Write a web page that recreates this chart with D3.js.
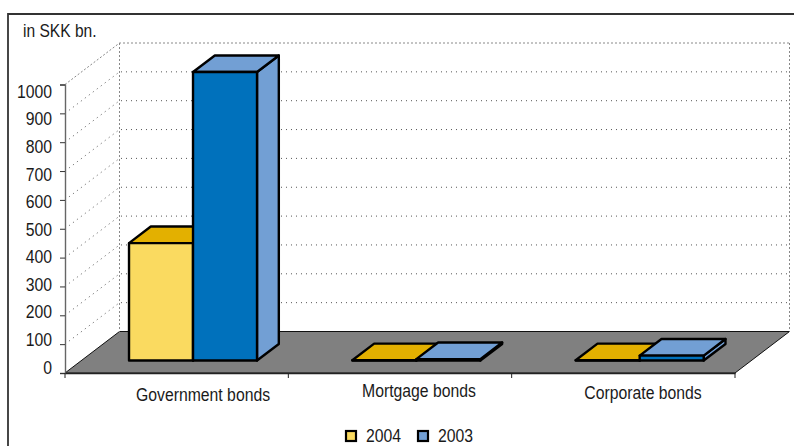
<!DOCTYPE html>
<html>
<head>
<meta charset="utf-8">
<script src="https://cdn.jsdelivr.net/npm/d3@7/dist/d3.min.js"></script>
<style>
  html, body { margin: 0; padding: 0; background: #fff; }
  svg { display: block; }
  text { font-family: "Liberation Sans", Arial, sans-serif; fill: #1a1a1a; }
</style>
</head>
<body>
<svg id="chart" width="794" height="446"></svg>
<script>
const categories = ["Government bonds", "Mortgage bonds", "Corporate bonds"];
const seriesNames = ["2004", "2003"];
const values2004 = [407, 1, 1];
const values2003 = [1000, 5, 17];
const yTicks = [0, 100, 200, 300, 400, 500, 600, 700, 800, 900, 1000];

const svg = d3.select("#chart");

// Plot box of the 3D chart: front plane plus the shift towards the back wall
const plot = { left: 65, right: 735, bottom: 373, top: 84.5, depthX: 54.5, depthY: -41.5 };

const y = d3.scaleLinear().domain([0, 1000]).range([plot.bottom, plot.top]);
// Value labels sit on a slightly tighter ladder than the tick marks
const yLabel = d3.scaleLinear().domain([0, 1000]).range([366.7, 91]);
const xCat = d3.scaleBand().domain(categories).range([plot.left, plot.right]);
const barWidth = 64;
const x = d3.scaleBand().domain(seriesNames).range([0, barWidth * 2]);

// Project (x, y, z) where z runs 0..1 from the front plane to the back wall
const px = (xv, z) => xv + plot.depthX * z;
const py = (yv, z) => yv + plot.depthY * z;
const poly = pts => pts.map(p => p.join(",")).join(" ");
const point = (xv, yv, z) => [px(xv, z), py(yv, z)];

// Condensed lettering: squeeze a text element horizontally to a share of its natural width
function narrow(sel, ratio) {
  sel.each(function () {
    d3.select(this).attr("lengthAdjust", "spacingAndGlyphs")
      .attr("textLength", this.getComputedTextLength() * ratio);
  });
  return sel;
}

// Frame around the chart area (open at the bottom and right)
svg.append("path")
  .attr("d", "M8,446V14H794")
  .attr("fill", "none").attr("stroke", "#333").attr("stroke-width", 1.8);

// Floor
svg.append("polygon")
  .attr("points", poly([point(plot.left, plot.bottom, 0), point(plot.right, plot.bottom, 0),
                        point(plot.right, plot.bottom, 1), point(plot.left, plot.bottom, 1)]))
  .attr("fill", "#808080").attr("stroke", "#111").attr("stroke-width", 1);

// Gridlines on the side wall and back wall
const grid = svg.append("g").attr("fill", "none").attr("stroke", "#555").attr("stroke-width", 1).attr("stroke-dasharray", "1 4");
yTicks.filter(t => t > 0).forEach(t => {
  const a = point(plot.left, y(t), 0), b = point(plot.left, y(t), 1), c = point(plot.right, y(t), 1);
  grid.append("polyline").attr("points", poly([a, b, c]))
    .attr("stroke-dasharray", t === 1000 ? "2 2" : "1 4")
    .attr("stroke", t === 1000 ? "#888" : "#555");
});
[plot.left, plot.right].forEach(edge => {
  grid.append("line").attr("x1", px(edge, 1)).attr("x2", px(edge, 1))
    .attr("y1", py(y(1000), 1)).attr("y2", py(y(0), 1))
    .attr("stroke", "#888").attr("stroke-dasharray", "2 2");
});

// Value axis: tick marks from the axis generator, labels on their own scale
const yAxis = svg.append("g").attr("transform", `translate(${plot.left},0)`)
  .call(d3.axisLeft(y).tickValues(yTicks).tickSize(5).tickFormat(""));
yAxis.selectAll("line").attr("stroke", "#333");
yAxis.select("path").attr("stroke", "#666").attr("stroke-width", 1.4);
svg.append("g").selectAll("text").data(yTicks).join("text")
  .attr("x", 52).attr("y", d => yLabel(d)).attr("dy", "0.36em")
  .attr("text-anchor", "end").attr("font-size", 19)
  .text(d3.format("d"))
  .call(narrow, 0.83);

// Category axis
const xAxis = svg.append("g").attr("transform", `translate(0,${plot.bottom})`)
  .call(d3.axisBottom(xCat).tickSize(0).tickFormat(""));
xAxis.select("path").attr("stroke", "#222").attr("stroke-width", 1.4);
categories.concat([null]).forEach((c, i) => {
  const xv = plot.left + i * xCat.bandwidth();
  xAxis.append("line").attr("x1", xv).attr("x2", xv).attr("y1", 0).attr("y2", 5).attr("stroke", "#222");
});
// Labels are nudged off the band centres towards the bars drawn in depth
const labelShiftX = [26.4, 19, 19.7];
const labelBaseline = [401, 397, 399];
svg.append("g").selectAll("text").data(categories).join("text")
  .attr("x", (d, i) => xCat(d) + xCat.bandwidth() / 2 + labelShiftX[i])
  .attr("y", (d, i) => labelBaseline[i])
  .attr("text-anchor", "middle").attr("font-size", 17.5)
  .text(d => d)
  .call(narrow, 0.9);

// Bars: each is a box drawn from z=0.3 to z=0.7 of the depth
const faces = [
  { key: "2004", values: values2004, front: "#FADA60", top: "#E3B000", side: "#E3B000" },
  { key: "2003", values: values2003, front: "#0071BC", top: "#729FD4", side: "#729FD4" }
];
const zFront = 0.3, zBack = 0.7;
const bars = svg.append("g").attr("stroke", "#000").attr("stroke-width", 2.4).attr("stroke-linejoin", "round");
categories.forEach((cat, ci) => {
  faces.forEach(s => {
    const x0 = xCat(cat) + (xCat.bandwidth() - barWidth * 2) / 2 + x(s.key);
    const x1 = x0 + x.bandwidth();
    const yTop = y(s.values[ci]), yBot = y(0);
    bars.append("polygon").attr("fill", s.side).attr("points", poly([
      point(x1, yBot, zFront), point(x1, yBot, zBack), point(x1, yTop, zBack), point(x1, yTop, zFront)]));
    bars.append("polygon").attr("fill", s.top).attr("points", poly([
      point(x0, yTop, zFront), point(x1, yTop, zFront), point(x1, yTop, zBack), point(x0, yTop, zBack)]));
    bars.append("polygon").attr("fill", s.front).attr("points", poly([
      point(x0, yBot, zFront), point(x1, yBot, zFront), point(x1, yTop, zFront), point(x0, yTop, zFront)]));
  });
});

// Unit label
svg.append("text").attr("x", 23).attr("y", 36.7).attr("font-size", 18).text("in SKK bn.").call(narrow, 0.865);

// Legend
const legend = svg.append("g");
[{ name: "2004", fill: "#FADA60", sx: 346 }, { name: "2003", fill: "#729FD4", sx: 418 }].forEach(l => {
  legend.append("rect").attr("x", l.sx).attr("y", 431).attr("width", 10).attr("height", 10)
    .attr("fill", l.fill).attr("stroke", "#000").attr("stroke-width", 2.2);
  legend.append("text").attr("x", l.sx + 20).attr("y", 441.7).attr("font-size", 19).text(l.name).call(narrow, 0.83);
});
</script>
</body>
</html>
